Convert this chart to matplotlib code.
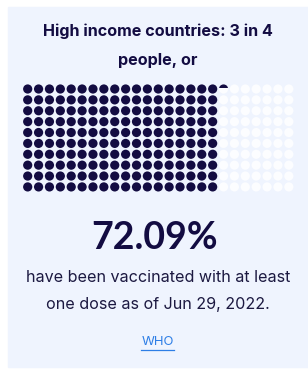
import numpy as np
import matplotlib
matplotlib.use('Agg')
import matplotlib.pyplot as plt
from matplotlib.patches import Circle, Rectangle

# data
group = 'High income countries'
ratio_text = '3 in 4'
share_pct = 72.09
as_of = 'Jun 29, 2022'
source = 'WHO'
n_rows = 10
n_cols = 25

W, H = 308, 372
bg = '#eff4fe'
navy = '#130c42'
empty = '#fcfdff'
link = '#2d7ee6'

plt.rcParams['font.family'] = ['Inter', 'DejaVu Sans']

fig = plt.figure(figsize=(W / 100, H / 100), dpi=100)
ax = fig.add_axes([0, 0, 1, 1])
ax.set_xlim(0, W)
ax.set_ylim(H, 0)
ax.axis('off')

# card background
ax.add_patch(Rectangle((8, 7), W - 8, 360, color=bg, zorder=0))

# titles
ax.text(157.5, 31, '%s: %s' % (group, ratio_text), ha='center', va='center',
        fontsize=11.6, fontweight='bold', color=navy)
ax.text(157.5, 60, 'people, or', ha='center', va='center',
        fontsize=11.6, fontweight='bold', color=navy)

# waffle of dots, filled column by column
x0, y0, step, r = 27.7, 89.0, 10.88, 4.6
filled = share_pct / 100 * n_rows * n_cols
for c in range(n_cols):
    for rw in range(n_rows):
        idx = c * n_rows + rw
        cx, cy = x0 + c * step, y0 + rw * step
        frac = filled - idx
        if frac >= 1:
            ax.add_patch(Circle((cx, cy), r, color=navy, lw=0, zorder=2))
        else:
            ax.add_patch(Circle((cx, cy), r, color=empty, lw=0, zorder=2))
            if frac > 0:
                # partial dot: fill the top part of the circle
                part = Circle((cx, cy), r, color=navy, lw=0, zorder=3)
                ax.add_patch(part)
                h = 2 * r * (0.3 + frac * 0.4)
                clip = Rectangle((cx - r, cy - r), 2 * r, h, transform=ax.transData)
                part.set_clip_path(clip)

# big number
ax.text(155, 238, '%.2f%%' % share_pct, ha='center', va='center',
        fontsize=27, fontweight='bold', color=navy, family=['Lato', 'DejaVu Sans'])
ax.text(158, 277, 'have been vaccinated with at least', ha='center', va='center',
        fontsize=11.6, color='#1c1941')
ax.text(158, 304, 'one dose as of %s.' % as_of, ha='center', va='center',
        fontsize=11.6, color='#1c1941')

# source link
ax.text(157.5, 342, source, ha='center', va='center', fontsize=9.4,
        color=link)
ax.plot([141, 174], [349.5, 349.5], color=link, lw=0.9)

fig.savefig('out.png', dpi=100, facecolor='white')
